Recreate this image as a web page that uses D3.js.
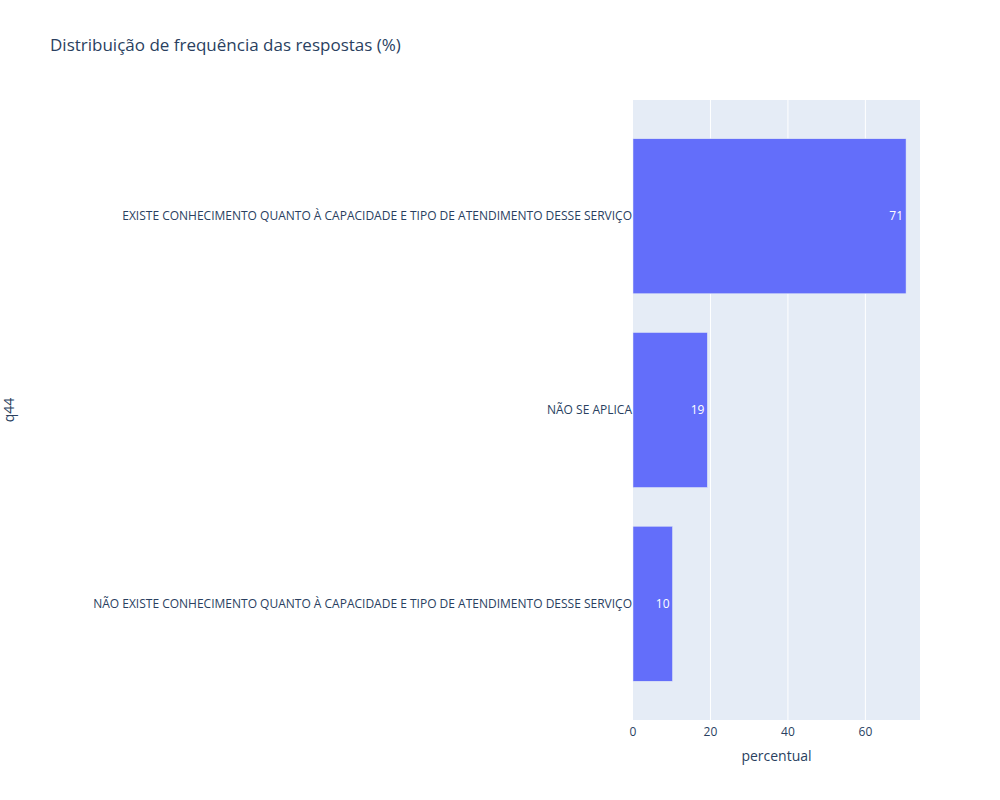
<!DOCTYPE html>
<html>
<head>
<meta charset="UTF-8">
<style>
  body { margin: 0; background: #fff; }
  text { font-family: "Open Sans", "DejaVu Sans", sans-serif; }
</style>
</head>
<body>
<svg id="chart" width="1000" height="800"></svg>
<script src="https://cdn.jsdelivr.net/npm/d3@7/dist/d3.min.js"></script>
<script>
var categories = [
  "EXISTE CONHECIMENTO QUANTO À CAPACIDADE E TIPO DE ATENDIMENTO DESSE SERVIÇO",
  "NÃO SE APLICA",
  "NÃO EXISTE CONHECIMENTO QUANTO À CAPACIDADE E TIPO DE ATENDIMENTO DESSE SERVIÇO"
];
var values = [70.5, 19.2, 10.2];
var labels = ["71", "19", "10"];
var xTicks = [0, 20, 40, 60];

var svg = d3.select("#chart");
var plotLeft = 633, plotRight = 920, plotTop = 100, plotBottom = 720;

var x = d3.scaleLinear().domain([0, 74.1]).range([plotLeft, plotRight]);
var y = d3.scaleBand().domain(categories).range([plotTop, plotBottom]).padding(0.2);

svg.append("rect").attr("x", plotLeft).attr("y", plotTop)
  .attr("width", plotRight - plotLeft).attr("height", plotBottom - plotTop).attr("fill", "#e5ecf6");

// grid
svg.selectAll(".grid").data(xTicks.slice(1)).enter().append("line")
  .attr("x1", d => x(d)).attr("x2", d => x(d))
  .attr("y1", plotTop).attr("y2", plotBottom)
  .attr("stroke", "#fff").attr("stroke-width", 1);

// bars
svg.selectAll(".bar").data(values).enter().append("rect")
  .attr("x", x(0)).attr("y", (d, i) => y(categories[i]))
  .attr("width", d => x(d) - x(0)).attr("height", y.bandwidth())
  .attr("fill", "#636efa").attr("stroke", "#e5ecf6").attr("stroke-width", 0.5);

svg.selectAll(".lbl").data(values).enter().append("text")
  .attr("x", d => x(d) - 3).attr("y", (d, i) => y(categories[i]) + y.bandwidth() / 2)
  .attr("dy", "0.35em").attr("text-anchor", "end")
  .attr("fill", "#fff").attr("font-size", 12)
  .text((d, i) => labels[i]);

// x axis ticks
svg.selectAll(".xt").data(xTicks).enter().append("text")
  .attr("x", d => x(d)).attr("y", plotBottom + 16).attr("text-anchor", "middle")
  .attr("fill", "#2a3f5f").attr("font-size", 12).text(d => d);

// y axis labels
svg.selectAll(".yt").data(categories).enter().append("text")
  .attr("x", plotLeft - 1).attr("y", d => y(d) + y.bandwidth() / 2)
  .attr("dy", "0.35em").attr("text-anchor", "end")
  .attr("fill", "#2a3f5f").attr("font-size", 12).text(d => d);

svg.append("text").attr("x", (plotLeft + plotRight) / 2).attr("y", 761)
  .attr("text-anchor", "middle").attr("fill", "#2a3f5f").attr("font-size", 14)
  .text("percentual");

svg.append("text").attr("transform", "translate(14," + (plotTop + plotBottom) / 2 + ") rotate(-90)")
  .attr("text-anchor", "middle").attr("fill", "#2a3f5f").attr("font-size", 14)
  .text("q44");

svg.append("text").attr("x", 50).attr("y", 51)
  .attr("fill", "#2a3f5f").attr("font-size", 17)
  .text("Distribuição de frequência das respostas (%)");
</script>
</body>
</html>
